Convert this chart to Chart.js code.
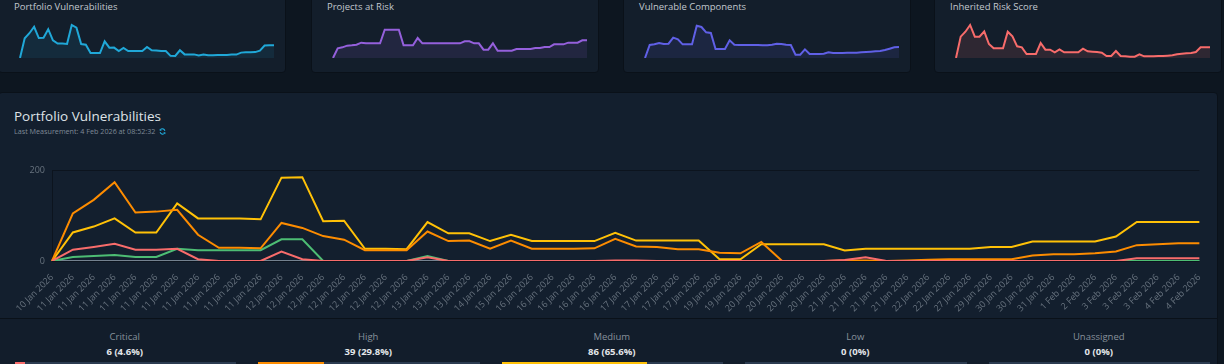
<!DOCTYPE html>
<html>
<head>
<meta charset="utf-8">
<script src="https://cdn.jsdelivr.net/npm/chart.js@4.4.1/dist/chart.umd.min.js"></script>
<style>
  html, body { margin: 0; padding: 0; }
  body {
    width: 1224px; height: 364px; overflow: hidden; position: relative;
    background: #0d1620; font-family: 'Open Sans', sans-serif;
  }
  .card {
    position: absolute; top: -20px; height: 93px; width: 288px;
    background: #131e2b; border: 1px solid #0a1119; border-radius: 4px; box-sizing: border-box;
  }
  .card .title {
    position: absolute; left: 15px; top: 20px; font-size: 9.5px; line-height: 12px; color: #c2c8ce;
  }
  .card canvas { position: absolute; left: 19px; top: 35px; }
  .panel {
    position: absolute; left: -2px; top: 92px; width: 1220px; height: 300px;
    background: #131f2e; border: 1px solid #0a1119; border-radius: 4px; box-sizing: border-box;
  }
  .panel h2 {
    position: absolute; left: 15px; top: 14px; margin: 0; font-weight: normal;
    font-size: 13.5px; line-height: 18px; color: #dfe3e7;
  }
  .panel .sub {
    position: absolute; left: 15px; top: 33px; font-size: 7.2px; line-height: 10px; color: #7f8a96;
  }
  .panel .sub svg { vertical-align: -1px; margin-left: 4px; }
  #mainChart { position: absolute; left: 13px; top: 65px; }
  .footer {
    position: absolute; left: 0; top: 225px; width: 1218px; height: 80px;
    border-top: 1px solid #0a1119; background: #121d2b;
  }
  .stat { position: absolute; top: 0; width: 243.5px; text-align: center; }
  .stat .name { margin-top: 12px; font-size: 9.5px; line-height: 12px; color: #87919b; }
  .stat .val { margin-top: 3px; font-size: 9.5px; line-height: 12px; color: #e4e7ea; font-weight: bold; }
  .stat .bar { margin: 4px 10.5px 0 11.5px; height: 4px; background: #2b3b50; position: relative; }
  .stat .bar span { position: absolute; left: 0; top: 0; height: 4px; }
</style>
</head>
<body>

<div class="card" style="left:-2px"><div class="title">Portfolio Vulnerabilities</div><canvas id="spark1" width="258" height="44"></canvas></div>
<div class="card" style="left:311px"><div class="title">Projects at Risk</div><canvas id="spark2" width="258" height="44"></canvas></div>
<div class="card" style="left:623px"><div class="title">Vulnerable Components</div><canvas id="spark3" width="258" height="44"></canvas></div>
<div class="card" style="left:934px"><div class="title">Inherited Risk Score</div><canvas id="spark4" width="258" height="44"></canvas></div>

<div class="panel">
  <h2>Portfolio Vulnerabilities</h2>
  <div class="sub">Last Measurement: 4 Feb 2026 at 08:52:32<svg width="7" height="7" viewBox="0 0 16 16"><path d="M13.5 6.5A5.8 5.8 0 0 0 3 4.5" fill="none" stroke="#20a8d8" stroke-width="2.4"/><path d="M2.5 9.5A5.8 5.8 0 0 0 13 11.5" fill="none" stroke="#20a8d8" stroke-width="2.4"/><path d="M1.5 1.5v5h5z" fill="#20a8d8"/><path d="M14.5 14.5v-5h-5z" fill="#20a8d8"/></svg></div>
  <canvas id="mainChart" width="1198" height="160"></canvas>
  <div class="footer" id="footer"></div>
</div>

<script>
const dates = [
  '10 Jan 2026',
  '11 Jan 2026', '11 Jan 2026', '11 Jan 2026', '11 Jan 2026', '11 Jan 2026',
  '11 Jan 2026', '11 Jan 2026', '11 Jan 2026', '11 Jan 2026', '11 Jan 2026',
  '12 Jan 2026', '12 Jan 2026', '12 Jan 2026', '12 Jan 2026', '12 Jan 2026', '12 Jan 2026', '12 Jan 2026',
  '13 Jan 2026', '13 Jan 2026', '13 Jan 2026',
  '14 Jan 2026', '15 Jan 2026',
  '16 Jan 2026', '16 Jan 2026', '16 Jan 2026', '16 Jan 2026', '16 Jan 2026',
  '17 Jan 2026', '17 Jan 2026', '17 Jan 2026', '17 Jan 2026',
  '19 Jan 2026', '19 Jan 2026',
  '20 Jan 2026', '20 Jan 2026', '20 Jan 2026', '20 Jan 2026',
  '21 Jan 2026', '21 Jan 2026', '21 Jan 2026', '21 Jan 2026',
  '22 Jan 2026', '22 Jan 2026',
  '27 Jan 2026', '29 Jan 2026', '30 Jan 2026', '30 Jan 2026', '31 Jan 2026',
  '1 Feb 2026', '2 Feb 2026',
  '3 Feb 2026', '3 Feb 2026', '3 Feb 2026',
  '4 Feb 2026', '4 Feb 2026'
];

const critical = [0, 25, 31, 38, 25, 25, 27, 4, 0, 0, 0, 21, 4, 0, 0, 0, 0, 0, 8, 0,
  0, 0, 0, 0, 0, 0, 0, 1, 1, 0, 0, 0, 0, 0, 0, 0, 0, 0, 2, 8,
  0, 0, 0, 0, 0, 0, 0, 0, 0, 0, 0, 0, 6, 6, 6, 6];
const high = [0, 105, 135, 174, 107, 109, 113, 58, 29, 29, 28, 84, 73, 55, 47, 24, 24, 24, 65, 44,
  45, 27, 45, 27, 27, 27, 28, 49, 32, 31, 26, 26, 18, 17, 42, 0, 0, 0, 1, 1,
  0, 1, 3, 4, 4, 4, 4, 12, 15, 15, 17, 21, 35, 37, 39, 39];
const medium = [0, 63, 76, 94, 63, 63, 127, 94, 94, 94, 92, 184, 185, 88, 89, 27, 27, 26, 86, 61,
  61, 44, 58, 44, 44, 44, 44, 62, 45, 45, 45, 45, 4, 4, 37, 37, 37, 37, 23, 27,
  27, 27, 27, 27, 27, 31, 31, 43, 43, 43, 43, 54, 86, 86, 86, 86];
const low = [0, 9, 11, 13, 9, 9, 27, 24, 24, 24, 24, 48, 48, 0, 0, 0, 0, 0, 11, 0,
  0, 0, 0, 0, 0, 0, 0, 0, 0, 0, 0, 0, 0, 0, 0, 0, 0, 0, 0, 0,
  0, 0, 0, 0, 0, 0, 0, 0, 0, 0, 0, 0, 0, 0, 0, 0];
const unassigned = [0, 0, 0, 0, 0, 0, 0, 0, 0, 0, 0, 0, 0, 0, 0, 0, 0, 0, 0, 0,
  0, 0, 0, 0, 0, 0, 0, 0, 0, 0, 0, 0, 0, 0, 0, 0, 0, 0, 0, 0,
  0, 0, 0, 0, 0, 0, 0, 0, 0, 0, 0, 0, 0, 0, 0, 0];

// sparklines (one point fewer than the main chart)
const projectsAtRisk = [0, 29, 32, 37, 38, 40, 46, 44, 44, 44, 44, 85, 85, 85, 85, 38, 38, 38, 60, 44,
  44, 44, 44, 44, 44, 44, 44, 44, 50, 50, 44, 44, 25, 25, 44, 22, 22, 22, 22, 27,
  27, 27, 27, 30, 30, 33, 33, 41, 41, 41, 46, 46, 46, 53, 53];
const vulnerableComponents = [0, 39, 41, 45, 42, 43, 61, 56, 41, 41, 41, 97, 93, 77, 75, 27, 27, 27, 53, 40,
  39, 39, 39, 39, 39, 38, 38, 40, 43, 42, 40, 39, 10, 10, 26, 12, 12, 12, 13, 17,
  15, 15, 15, 16, 16, 16, 17, 18, 19, 20, 21, 24, 28, 32, 33];
const riskScore = [0, 1000, 1230, 1545, 1000, 1000, 1250, 655, 452, 452, 452, 1232, 1014, 546, 499, 187, 187, 187, 702, 390,
  390, 265, 406, 265, 265, 265, 265, 437, 312, 296, 281, 250, 94, 94, 328, 94, 78, 62, 62, 172,
  78, 78, 78, 94, 94, 109, 125, 172, 203, 218, 234, 281, 499, 499, 499];

const severityNames = ['Critical', 'High', 'Medium', 'Low', 'Unassigned'];
const severityCounts = [6, 39, 86, 0, 0];
const severityPercents = [4.6, 29.8, 65.6, 0, 0];
const severityColors = ['#f86c6b', '#fd8c00', '#ffc107', '#4dbd74', '#73818f'];

Chart.defaults.font.family = "'Open Sans', sans-serif";

const sparkLabels = dates.slice(0, projectsAtRisk.length);
const totals = sparkLabels.map((_, i) => critical[i] + high[i] + medium[i] + low[i] + unassigned[i]);

function sparkline(id, values, color, fillColor, yMax) {
  new Chart(document.getElementById(id), {
    type: 'line',
    data: {
      labels: sparkLabels,
      datasets: [{
        data: values,
        borderColor: color,
        backgroundColor: fillColor,
        borderWidth: 2,
        pointRadius: 0,
        tension: 0,
        fill: 'origin'
      }]
    },
    options: {
      responsive: false,
      animation: false,
      layout: { padding: { top: 4, bottom: 2, left: 2, right: 2 } },
      plugins: { legend: { display: false }, tooltip: { enabled: false } },
      scales: {
        x: { display: false },
        y: { display: false, min: 0, max: yMax }
      }
    }
  });
}

sparkline('spark1', totals, '#20a8d8', 'rgba(32,168,216,0.10)', 388);
sparkline('spark2', projectsAtRisk, '#9560dc', 'rgba(149,96,220,0.12)', 114);
sparkline('spark3', vulnerableComponents, '#6060e6', 'rgba(96,96,230,0.12)', 114);
sparkline('spark4', riskScore, '#f86c6b', 'rgba(248,108,107,0.12)', 1779);

const series = [critical, high, medium, low, unassigned];
new Chart(document.getElementById('mainChart'), {
  type: 'line',
  data: {
    labels: dates,
    datasets: series.map((values, i) => ({
      label: severityNames[i],
      data: values,
      borderColor: severityColors[i],
      backgroundColor: severityColors[i],
      borderWidth: 2,
      pointRadius: 0,
      tension: 0,
      fill: false
    }))
  },
  options: {
    responsive: false,
    animation: false,
    layout: { padding: { top: 10, right: 7, left: 0, bottom: 0 } },
    plugins: { legend: { display: false }, tooltip: { enabled: false } },
    scales: {
      x: {
        grid: { display: false },
        border: { display: false },
        ticks: { autoSkip: false, minRotation: 45, maxRotation: 45, color: '#68737f', font: { size: 9 }, padding: 3 },
        afterFit: function(scale) { scale.height = 57; }
      },
      y: {
        min: 0,
        max: 200,
        ticks: { stepSize: 200, color: '#68737f', font: { size: 9 }, padding: 7 },
        grid: { color: 'rgba(0,0,0,0.35)', drawTicks: false },
        border: { color: 'rgba(0,0,0,0.35)' },
        afterFit: function(scale) { scale.width = 40; }
      }
    }
  }
});

// severity summary under the chart
const footer = document.getElementById('footer');
severityNames.forEach((name, i) => {
  const col = document.createElement('div');
  col.className = 'stat';
  col.style.left = (4 + i * 243.5) + 'px';
  col.innerHTML = '<div class="name">' + name + '</div>' +
    '<div class="val">' + severityCounts[i] + ' (' + severityPercents[i] + '%)</div>' +
    '<div class="bar"><span style="width:' + severityPercents[i] + '%;background:' + severityColors[i] + '"></span></div>';
  footer.appendChild(col);
});
</script>
</body>
</html>
